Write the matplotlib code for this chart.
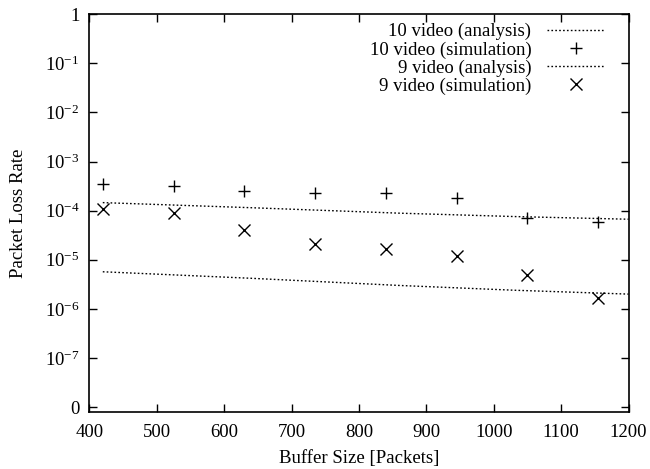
import matplotlib
matplotlib.use("Agg")
import matplotlib.pyplot as plt
from matplotlib.ticker import FixedLocator, NullLocator

plt.rcParams['font.family'] = ['Liberation Serif', 'DejaVu Serif']
plt.rcParams['mathtext.fontset'] = 'custom'
plt.rcParams['mathtext.rm'] = 'Liberation Serif'
plt.rcParams['mathtext.it'] = 'Liberation Serif:italic'

# Data
buffer_sim = [420, 525, 630, 735, 840, 945, 1050, 1155]
sim10 = [3.5e-4, 3.2e-4, 2.55e-4, 2.33e-4, 2.26e-4, 1.79e-4, 7.0e-5, 5.8e-5]
sim9 = [1.07e-4, 8.9e-5, 4.05e-5, 2.1e-5, 1.64e-5, 1.19e-5, 4.9e-6, 1.64e-6]

buffer_ana = [420, 640, 860, 1030, 1200]
ana10 = [1.46e-4, 1.15e-4, 8.9e-5, 7.6e-5, 6.7e-5]
ana9 = [5.7e-6, 4.2e-6, 3.0e-6, 2.4e-6, 2.0e-6]

xticks = [400, 500, 600, 700, 800, 900, 1000, 1100, 1200]
yticks = [1e-8, 1e-7, 1e-6, 1e-5, 1e-4, 1e-3, 1e-2, 1e-1, 1]
ytick_labels = ['0', r'$10^{-7}$', r'$10^{-6}$', r'$10^{-5}$', r'$10^{-4}$',
                r'$10^{-3}$', r'$10^{-2}$', r'$10^{-1}$', '1']

FS = 13.5

fig = plt.figure(figsize=(6.5, 4.69), dpi=100)
ax = fig.add_axes([0.1374, 0.1222, 0.967 - 0.1374, 0.9695 - 0.1222])

dot = (0, (1.2, 1.6))
ax.plot(buffer_ana, ana10, color='black', lw=1.0, linestyle=dot, label='10 video (analysis)')
ax.plot(buffer_sim, sim10, color='black', lw=0, marker='+', markersize=9,
        markeredgewidth=1.0, label='10 video (simulation)')
ax.plot(buffer_ana, ana9, color='black', lw=1.0, linestyle=dot, label='9 video (analysis)')
ax.plot(buffer_sim, sim9, color='black', lw=0, marker='x', markersize=8,
        markeredgewidth=1.0, label='9 video (simulation)')

ax.set_yscale('log')
ax.set_xlim(400, 1200)
ax.set_ylim(10 ** -8.094, 1)
ax.yaxis.set_major_locator(FixedLocator(yticks))
ax.set_yticklabels(ytick_labels)
ax.yaxis.set_minor_locator(NullLocator())
ax.set_xticks(xticks)
ax.set_xticklabels([str(v) for v in xticks])

ax.tick_params(axis='both', which='major', direction='in', length=6, width=1,
               top=True, right=True, labelsize=FS)
ax.tick_params(axis='x', pad=9)
ax.tick_params(axis='y', pad=7)
for s in ax.spines.values():
    s.set_linewidth(1.2)

ax.set_xlabel('Buffer Size [Packets]', fontsize=FS, labelpad=6)
ax.set_ylabel('Packet Loss Rate', fontsize=FS, labelpad=13)

leg = ax.legend(loc='upper right', bbox_to_anchor=(605 / 650, 1 - 23 / 469),
                bbox_transform=fig.transFigure, frameon=False, markerfirst=False,
                fontsize=FS, handlelength=3.1, handletextpad=0.82,
                labelspacing=0.05, borderpad=0, borderaxespad=0)

fig.savefig('out.png', dpi=100)
